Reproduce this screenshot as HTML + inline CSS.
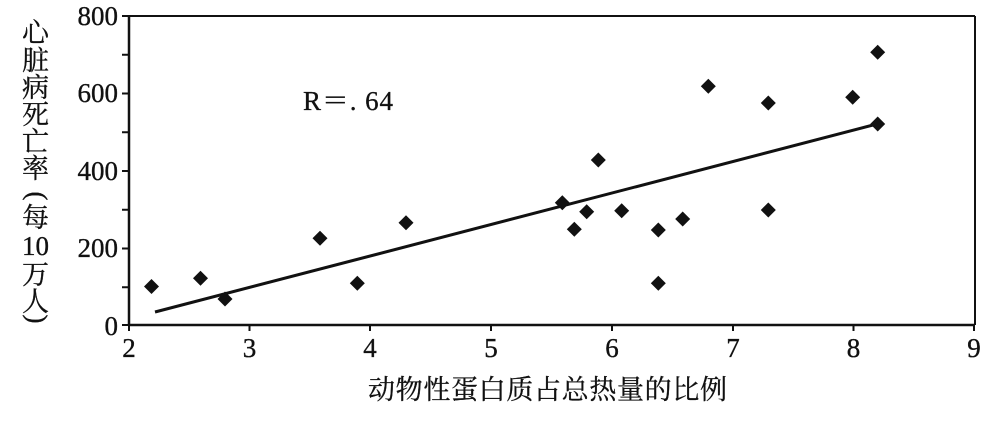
<!DOCTYPE html>
<html><head><meta charset="utf-8"><style>
html,body{margin:0;padding:0;background:#fff;}
svg{display:block;}
.n{font-family:"Liberation Serif",serif;font-size:27px;fill:#111;stroke:#111;stroke-width:0.35px;}
.c{font-family:"Liberation Serif","Noto Serif CJK SC","Noto Sans CJK SC",serif;font-size:27px;fill:#111;stroke:#111;stroke-width:0.3px;}
</style></head><body>
<svg width="1000" height="425" viewBox="0 0 1000 425" xmlns="http://www.w3.org/2000/svg">
<rect width="1000" height="425" fill="#fff"/>
<!-- frame -->
<line x1="129" y1="16" x2="975" y2="16" stroke="#111" stroke-width="2"/>
<line x1="975" y1="16" x2="975" y2="325" stroke="#111" stroke-width="2"/>
<line x1="129" y1="15" x2="129" y2="326" stroke="#111" stroke-width="2.5"/>
<line x1="128" y1="325" x2="975" y2="325" stroke="#111" stroke-width="2.5"/>
<!-- y ticks -->
<g stroke="#111" stroke-width="2">
<line x1="122" y1="16" x2="129" y2="16"/>
<line x1="122" y1="54.75" x2="129" y2="54.75"/>
<line x1="122" y1="93.5" x2="129" y2="93.5"/>
<line x1="122" y1="132.25" x2="129" y2="132.25"/>
<line x1="122" y1="171" x2="129" y2="171"/>
<line x1="122" y1="209.75" x2="129" y2="209.75"/>
<line x1="122" y1="248.5" x2="129" y2="248.5"/>
<line x1="122" y1="287.25" x2="129" y2="287.25"/>
<line x1="122" y1="325" x2="129" y2="325"/>
</g>
<!-- x ticks -->
<g stroke="#111" stroke-width="2">
<line x1="129" y1="325" x2="129" y2="331"/>
<line x1="249.5" y1="325" x2="249.5" y2="331"/>
<line x1="370" y1="325" x2="370" y2="331"/>
<line x1="491" y1="325" x2="491" y2="331"/>
<line x1="612" y1="325" x2="612" y2="331"/>
<line x1="733" y1="325" x2="733" y2="331"/>
<line x1="853.5" y1="325" x2="853.5" y2="331"/>
<line x1="974" y1="325" x2="974" y2="331"/>
</g>
<!-- y tick labels -->
<g class="n" text-anchor="end">
<text x="118" y="25">800</text>
<text x="118" y="102">600</text>
<text x="118" y="180">400</text>
<text x="118" y="257">200</text>
<text x="118" y="335">0</text>
</g>
<!-- x tick labels -->
<g class="n" text-anchor="middle">
<text x="129" y="357">2</text>
<text x="249.5" y="357">3</text>
<text x="370" y="357">4</text>
<text x="491" y="357">5</text>
<text x="612" y="357">6</text>
<text x="733" y="357">7</text>
<text x="853.5" y="357">8</text>
<text x="974" y="357">9</text>
</g>
<!-- x title -->
<text class="c" x="368" y="399" textLength="359" lengthAdjust="spacing">动物性蛋白质占总热量的比例</text>
<!-- y title vertical -->
<g class="c" text-anchor="middle">
<text x="35.5" y="42">心</text>
<text x="35.5" y="70">脏</text>
<text x="35.5" y="97">病</text>
<text x="35.5" y="124">死</text>
<text x="35.5" y="151">亡</text>
<text x="35.5" y="178">率</text>
<text x="35.5" y="227">每</text>
<text class="n" x="35.5" y="255">10</text>
<text x="35.5" y="284">万</text>
<text x="35.5" y="311">人</text>
</g>
<g transform="translate(35.5 196) rotate(90)">
<text class="n" text-anchor="middle" x="0" y="7">(</text>
</g>
<g transform="translate(35.5 319) rotate(90)">
<text class="n" text-anchor="middle" x="0" y="7">)</text>
</g>
<!-- R label -->
<text class="c" x="303" y="110" textLength="90" lengthAdjust="spacing">R＝. 64</text>
<!-- regression line -->
<line x1="155" y1="312" x2="877" y2="124" stroke="#111" stroke-width="3"/>
<!-- points -->
<g fill="#111">
<path d="M151.5 279 L159 286.5 L151.5 294 L144 286.5 Z"/>
<path d="M200.5 270.8 L208 278.3 L200.5 285.8 L193 278.3 Z"/>
<path d="M225 291.5 L232.5 299 L225 306.5 L217.5 299 Z"/>
<path d="M320 230.8 L327.5 238.3 L320 245.8 L312.5 238.3 Z"/>
<path d="M357.3 275.8 L364.8 283.3 L357.3 290.8 L349.8 283.3 Z"/>
<path d="M406 215.2 L413.5 222.7 L406 230.2 L398.5 222.7 Z"/>
<path d="M562.3 195.2 L569.8 202.7 L562.3 210.2 L554.8 202.7 Z"/>
<path d="M574.3 221.8 L581.8 229.3 L574.3 236.8 L566.8 229.3 Z"/>
<path d="M586.7 204.2 L594.2 211.7 L586.7 219.2 L579.2 211.7 Z"/>
<path d="M598.3 152.5 L605.8 160 L598.3 167.5 L590.8 160 Z"/>
<path d="M621.7 203.2 L629.2 210.7 L621.7 218.2 L614.2 210.7 Z"/>
<path d="M658.3 222.5 L665.8 230 L658.3 237.5 L650.8 230 Z"/>
<path d="M658.3 275.8 L665.8 283.3 L658.3 290.8 L650.8 283.3 Z"/>
<path d="M682.7 211.5 L690.2 219 L682.7 226.5 L675.2 219 Z"/>
<path d="M708.3 78.8 L715.8 86.3 L708.3 93.8 L700.8 86.3 Z"/>
<path d="M768.3 95.5 L775.8 103 L768.3 110.5 L760.8 103 Z"/>
<path d="M768.3 202.5 L775.8 210 L768.3 217.5 L760.8 210 Z"/>
<path d="M852.7 89.8 L860.2 97.3 L852.7 104.8 L845.2 97.3 Z"/>
<path d="M877.7 44.8 L885.2 52.3 L877.7 59.8 L870.2 52.3 Z"/>
<path d="M877.7 116.5 L885.2 124 L877.7 131.5 L870.2 124 Z"/>
</g>
</svg>
</body></html>
